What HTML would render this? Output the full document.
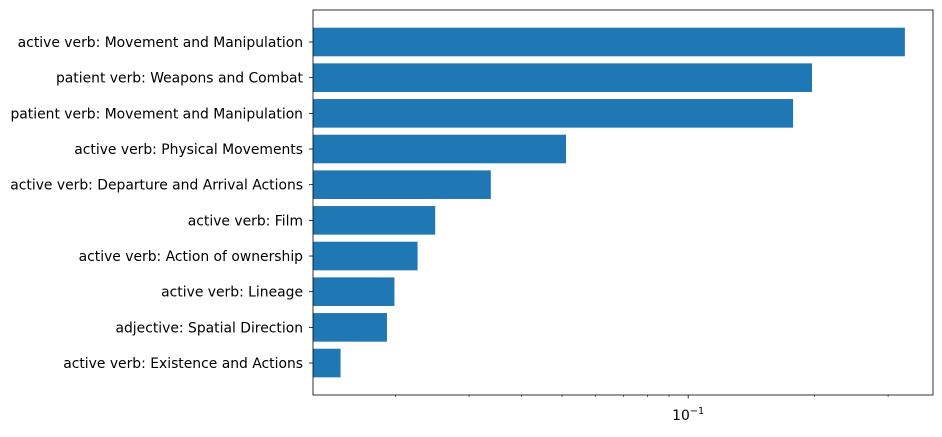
<!DOCTYPE html>
<html><head><meta charset="utf-8"><style>
body{margin:0;background:#fff;font-family:"DejaVu Sans","Liberation Sans",sans-serif;}
</style></head><body>
<svg id="chart" width="942" height="433" xmlns="http://www.w3.org/2000/svg" font-family="DejaVu Sans, Liberation Sans, sans-serif"></svg>
<script>
const categories=["active verb: Movement and Manipulation","patient verb: Weapons and Combat","patient verb: Movement and Manipulation","active verb: Physical Movements","active verb: Departure and Arrival Actions","active verb: Film","active verb: Action of ownership","active verb: Lineage","adjective: Spatial Direction","active verb: Existence and Actions"];
const values=[0.329,0.1975,0.178,0.0511,0.0338,0.0249,0.0226,0.0199,0.0191,0.0148];
const xMin=0.01272, xMax=0.384;
const L=313,R=933,T=10,B=395;
const NS="http://www.w3.org/2000/svg";
const svg=document.getElementById('chart');
function x(v){return L+(Math.log10(v)-Math.log10(xMin))/(Math.log10(xMax)-Math.log10(xMin))*(R-L);}
const c0=42, dy=35.67;
function y(i){return c0+i*dy;}
function mk(t,a,p){const e=document.createElementNS(NS,t);for(const k in a)e.setAttribute(k,a[k]);(p||svg).appendChild(e);return e;}
const g=mk('g',{});


values.forEach((v,i)=>{
  const r=mk('rect',{x:L,y:y(i)-14.3,width:x(v)-L,height:28.6,fill:'#1f77b4'},g);
  
  
  const t=mk('text',{x:L-10,y:y(i)+5,'text-anchor':'end','font-size':13.9,fill:'#000'});
  t.textContent=categories[i];
  
  
  mk('line',{x1:L-4,x2:L,y1:y(i),y2:y(i),stroke:'#000','stroke-width':0.8});
});
for(let d=-2;d<=0;d++){for(let m=1;m<10;m++){const v=m*Math.pow(10,d);if(v<xMin||v>xMax)continue;
  const px=x(v);const major=m===1;
  mk('line',{x1:px,x2:px,y1:B,y2:B+(major?3.5:2),stroke:'#000','stroke-width':major?0.8:0.6});
  if(major){const t=mk('text',{x:px-16,y:B+25,'font-size':13.9,fill:'#000'});t.innerHTML='10<tspan dy="-6" font-size="9.7">−1</tspan>';
    
    }
}}
const f=mk('rect',{x:L,y:T,width:R-L,height:B-T,fill:'none',stroke:'#000','stroke-width':0.8});


</script>
</body></html>
